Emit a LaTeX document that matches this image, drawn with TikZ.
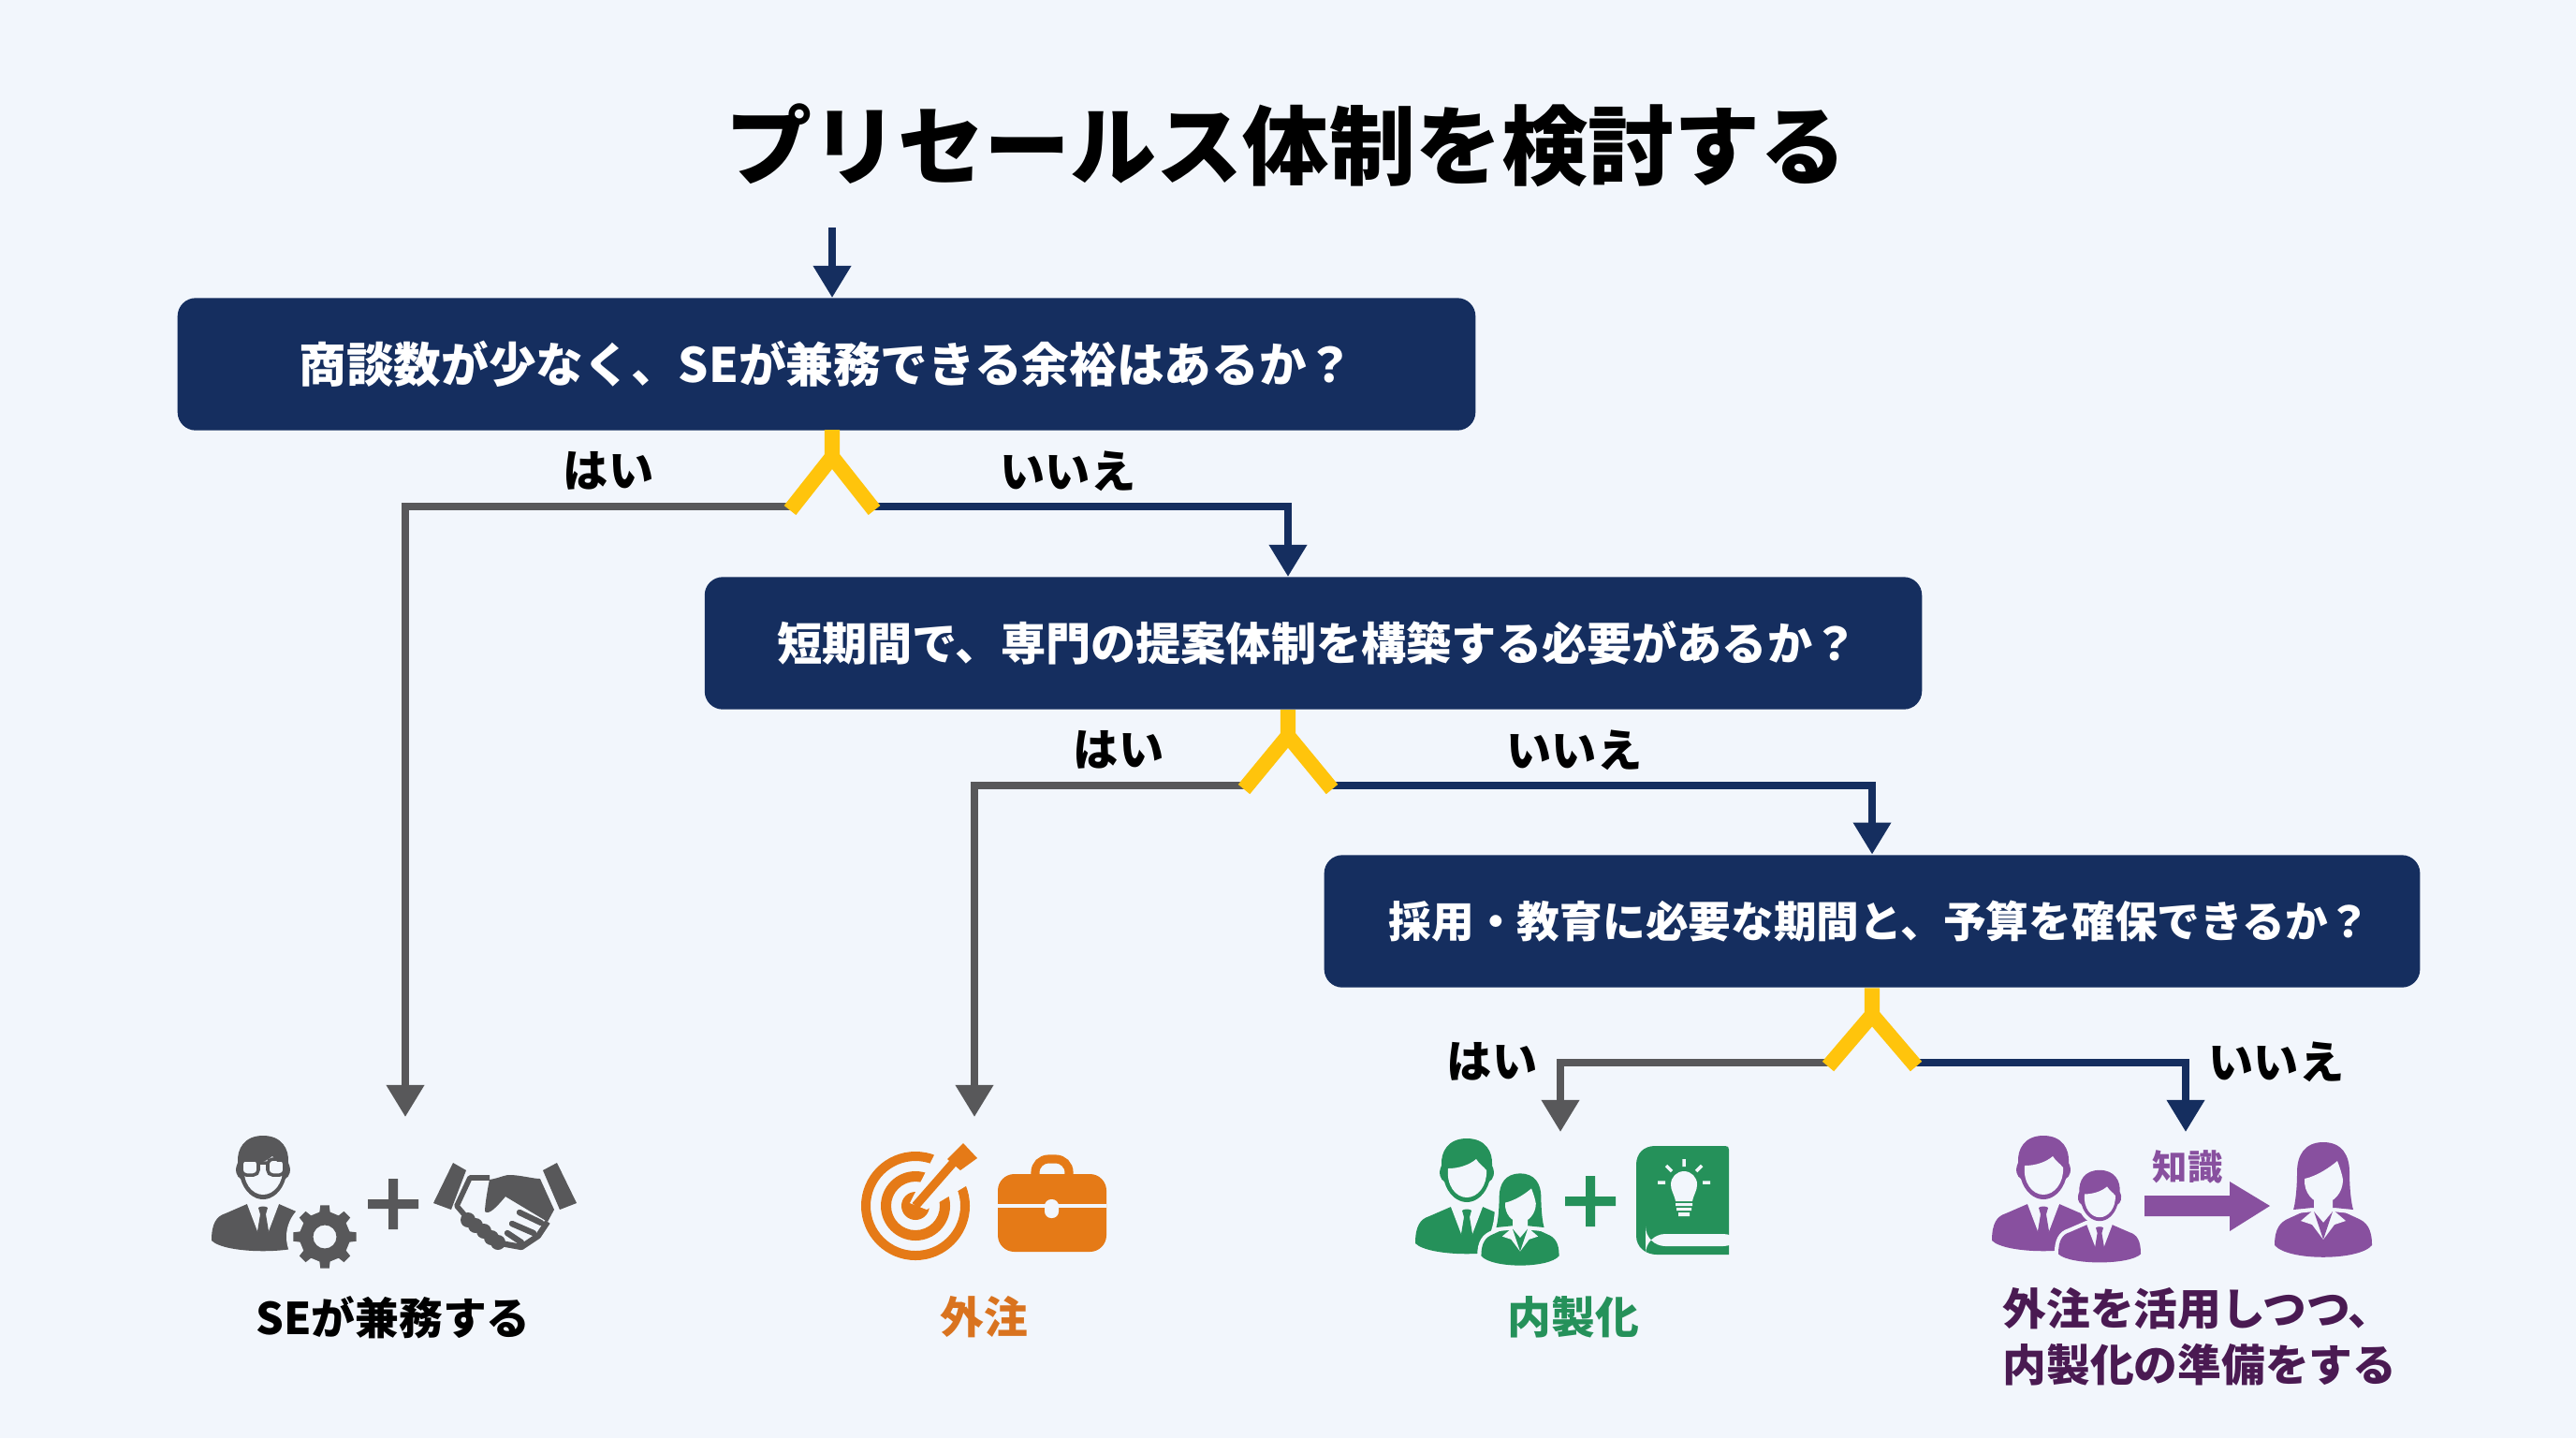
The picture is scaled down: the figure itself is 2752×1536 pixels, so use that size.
\documentclass[tikz,border=0pt]{standalone}
\usepackage{fontspec}
\usepackage{xcolor}
\usepackage{tikz}
\setmainfont{Noto Sans CJK JP}
\usetikzlibrary{arrows.meta}
\definecolor{bgcol}{HTML}{F2F6FC}
\definecolor{navycol}{HTML}{152E5F}
\definecolor{graycol}{HTML}{58585A}
\definecolor{forkcol}{HTML}{FFC40C}
\definecolor{orangecol}{HTML}{E57A17}
\definecolor{orangetext}{HTML}{D9731F}
\definecolor{greencol}{HTML}{25915A}
\definecolor{purplecol}{HTML}{88509F}
\definecolor{plumcol}{HTML}{4A1A52}
\tikzset{
qbox/.style={fill=navycol,rounded corners=5.5pt,text=white,font=\fontsize{#1}{16}\selectfont\bfseries,minimum height=40.2pt,inner sep=0pt},
answer/.style={font=\fontsize{13.7}{16}\selectfont\bfseries,text=black},
result/.style={font=\fontsize{13.3}{17}\selectfont\bfseries},
yesline/.style={draw=graycol,line width=2.3pt,-{Triangle[length=9.7pt,width=11pt]}},
noline/.style={draw=navycol,line width=2.3pt,-{Triangle[length=9.7pt,width=11pt]}},
forkline/.style={draw=forkcol,line width=4.6pt},
halo/.style={preaction={draw=bgcol,line width=2.4pt}},
man/.pic={
\fill[halo](-55,78)..controls(-55,60)and(-50,52)..(-40,49)--(-17,39)--(17,39)--(40,49)..controls(50,52)and(55,60)..(55,78)..controls(40,93)and(-40,93)..(-55,78)--cycle;
\fill[bgcol](-17,39)--(-6,68)--(6,68)--(17,39)--cycle;
\fill(-5,43)..controls(-3,41)and(3,41)..(5,43)--(3,50)--(6,68)--(0,72)--(-6,68)--(-3,50)--cycle;
\fill[halo](0,-34)..controls(-20,-34)and(-28,-20)..(-27,-5)..controls(-31,3)and(-28,10)..(-24,12)..controls(-20,26)and(-10,34)..(0,34)..controls(10,34)and(20,26)..(24,12)..controls(28,10)and(31,3)..(27,-5)..controls(28,-20)and(20,-34)..(0,-34)--cycle;
\fill[bgcol](-20,-2)..controls(-8,-2)and(3,-6)..(10,-12)..controls(13,-7)and(18,-4)..(21,0)..controls(22,16)and(12,29)..(0,29)..controls(-12,29)and(-22,16)..(-20,-2)--cycle;
},
woman/.pic={
\fill[halo](-52,78)..controls(-52,60)and(-46,53)..(-36,49)--(-12,38)--(12,38)--(36,49)..controls(46,53)and(52,60)..(52,78)..controls(38,95)and(-38,95)..(-52,78)--cycle;
\fill[halo](0,-32)..controls(-20,-32)and(-28,-18)..(-28,0)..controls(-28,18)and(-30,34)..(-32,40)--(-12,38)--(12,38)--(32,40)..controls(30,34)and(28,18)..(28,0)..controls(28,-18)and(20,-32)..(0,-32)--cycle;
\fill[bgcol](-10,30)--(-10,40)--(-24,52)--(-12,56)--(0,72)--(12,56)--(24,52)--(10,40)--(10,30)--cycle;
\fill(-10,42)--(0,72)--(10,42)--(0,54)--cycle;
\fill[bgcol](-20,7)..controls(-6,4)and(8,-6)..(15,-12)..controls(18,-4)and(20,2)..(21,8)..controls(21,22)and(11,33)..(0,33)..controls(-11,33)and(-21,22)..(-20,7)--cycle;
}
}
\begin{document}
\begin{tikzpicture}[x=0.01cm,y=-0.01cm]
\useasboundingbox(0,0)rectangle(2752,1536);
\fill[bgcol](0,0)rectangle(2752,1536);
\node(title)at(1374,155){\fontsize{26.2}{30}\selectfont\bfseries プリセールス体制を検討する};
% question boxes
\node[qbox=14.4,minimum width=394.3pt](q1)at(883,389){商談数が少なく、SEが兼務できる余裕はあるか？};
\node[qbox=13.7,minimum width=369.8pt](q2)at(1403,687){\hspace*{2.4pt}短期間で、専門の提案体制を構築する必要があるか？};
\node[qbox=13,minimum width=332.9pt](q3)at(2000,984){\hspace*{4.6pt}採用・教育に必要な期間と、予算を確保できるか？};
% fixed points
\coordinate(start)at(889,243);
\coordinate(q1in)at(889,318);
\coordinate(q1out)at(889,459);
\coordinate(fork1)at(889,488);
\coordinate(fork1l)at(844,541);
\coordinate(fork1r)at(934,541);
\coordinate(q2in)at(1376,616);
\coordinate(q2out)at(1376,758);
\coordinate(fork2)at(1376,786);
\coordinate(fork2l)at(1329,839);
\coordinate(fork2r)at(1423,839);
\coordinate(fork3)at(2000,1084);
\coordinate(fork3l)at(1953,1135);
\coordinate(fork3r)at(2047,1135);
\coordinate(end1)at(433,1193);
\coordinate(end2)at(1041,1193);
\coordinate(end3)at(1667,1209);
\coordinate(end4)at(2335,1209);
% connectors
\draw[noline](start)--(q1in);
\draw[yesline](fork1l)-|(end1);
\draw[noline](fork1r)-|(q2in);
\draw[yesline](fork2l)-|(end2);
\draw[noline](fork2r)-|(q3.north);
\draw[yesline](fork3l)-|(end3);
\draw[noline](fork3r)-|(end4);
\draw[forkline](q1out)--(fork1)(fork1l|-0,545)--(fork1)--(fork1r|-0,545);
\draw[forkline](q2out)--(fork2)(fork2l|-0,843)--(fork2)--(fork2r|-0,843);
\draw[forkline](q3.south)--(fork3)(fork3l|-0,1139)--(fork3)--(fork3r|-0,1139);
% answers
\node[answer](yes1)at(650,503){はい};
\node[answer](no1)at(1141,503){いいえ};
\node[answer](yes2)at(1195,801){はい};
\node[answer](no2)at(1682,801){いいえ};
\node[answer](yes3)at(1594,1134){はい};
\node[answer](no3)at(2432,1134){いいえ};
% SE icons
\pic[color=graycol]at(281,1247){man};
\fill[bgcol](259,1241)rectangle(303,1252);
\draw[graycol,line width=1pt,rounded corners=1.5pt](258,1238)rectangle(276,1255)(286,1238)rectangle(304,1255)(276,1242)--(286,1242);
\fill[bgcol](347,1321)circle[radius=41];
\fill[graycol,even odd rule](347,1321)foreach\a in{0,45,...,315}{
\ifnum\a=0 +(\a-12:27)\else--+(\a-12:27)\fi --+(\a-8:34)--+(\a+8:34)--+(\a+12:27)}--cycle
(347,1321)circle[radius=12.5];
\fill[graycol](393,1281)rectangle(447,1291)(415,1259)rectangle(425,1313);
\fill[graycol](484,1242)--(498,1250)--(482,1292)--(463,1285)--cycle;
\fill[graycol](595,1242)--(616,1285)--(598,1292)--(580,1250)--cycle;
\fill[graycol](518,1294)..controls(518,1286)and(522,1264)..(523,1260)..controls(535,1258)and(540,1254)..(547,1255)..controls(560,1256)and(570,1259)..(577,1259)--(592,1292)--(585,1305)--(540,1278)..controls(530,1290)and(522,1298)..(518,1294)--cycle;
\draw[graycol,line width=1.6pt,line join=round](523,1258)--(502,1258)--(488,1288)--(500,1302);
\foreach\u/\v in{500/1303,508/1309,517/1315,525/1322,532/1327}\fill[graycol](\u,\v)circle[radius=8];
\draw[graycol,line width=1.8pt,line cap=round](555,1295)--(578,1306)(547,1307)--(570,1317)(542,1317)--(557,1327);
\draw[graycol,line width=1.8pt,line join=round](585,1305)--(575,1320)--(557,1332)--(535,1328);
\node[result,text=black](se)at(420,1407){SEが兼務する};
% outsourcing icons
\fill[orangecol,even odd rule](978,1288)circle[radius=58](978,1288)circle[radius=48](978,1288)circle[radius=37](978,1288)circle[radius=26](978,1288)circle[radius=15];
\fill[bgcol](1000,1230)--(1050,1230)--(1040,1262)--(990,1292)--(972,1285)--cycle;
\draw[orangecol,line width=2.6pt](978,1288)--(1020,1240);
\fill[orangecol](1029,1221)--(1044,1237)--(1026,1250)--(1012,1238)--cycle;
\draw[orangecol,line width=2.6pt,rounded corners=4pt](1106,1254)--(1106,1238)--(1142,1238)--(1142,1254);
\fill[orangecol,rounded corners=5pt](1066,1254)rectangle(1182,1337);
\draw[bgcol,line width=1.2pt](1066,1288)--(1182,1288);
\fill[bgcol,rounded corners=2pt](1116,1281)rectangle(1131,1301);
\node[result,text=orangetext](outsource)at(1051,1407){外注};
% in-house icons
\pic[color=greencol]at(1567,1250){man};
\pic[color=greencol,scale=0.8]at(1624,1279){woman};
\fill[greencol](1672,1278)rectangle(1726,1288)(1694,1256)rectangle(1704,1310);
\fill[greencol](1748,1320)--(1748,1244)..controls(1748,1232)and(1756,1224)..(1768,1224)--(1843,1224)..controls(1846,1224)and(1847,1225)..(1847,1228)--(1847,1340)--(1770,1340)..controls(1758,1340)and(1748,1332)..(1748,1320)--cycle;
\fill[bgcol,rounded corners=6pt](1758,1318)rectangle(1862,1331);
\fill[bgcol](1790,1283)..controls(1788,1274)and(1785,1272)..(1785,1265)arc[start angle=180,end angle=360,radius=14]..controls(1813,1272)and(1810,1274)..(1808,1283)--cycle;
\fill[bgcol](1790,1285)rectangle(1808,1288)(1791,1290)rectangle(1807,1293)(1793,1295)rectangle(1805,1299);
\draw[bgcol,line width=1pt](1799,1238)--(1799,1246)(1780,1245)--(1786,1251)(1818,1245)--(1812,1251)(1771,1263)--(1779,1263)(1819,1263)--(1827,1263);
\node[result,text=greencol](inhouse)at(1681,1407){内製化};
% transition icons
\pic[color=purplecol]at(2183,1247){man};
\pic[color=purplecol,scale=0.8]at(2243,1277){man};
\fill[purplecol](2291,1277)--(2382,1277)--(2382,1262)--(2425,1288)--(2382,1315)--(2382,1299)--(2291,1299)--cycle;
\node[font=\fontsize{10.6}{12}\selectfont\bfseries,text=purplecol](knowledge)at(2337,1246){知識};
\pic[color=purplecol]at(2482,1252){woman};
\node[result,text=plumcol,align=left,anchor=west](hybrid)at(2127,1428){外注を活用しつつ、\\内製化の準備をする};
\end{tikzpicture}
\end{document}
